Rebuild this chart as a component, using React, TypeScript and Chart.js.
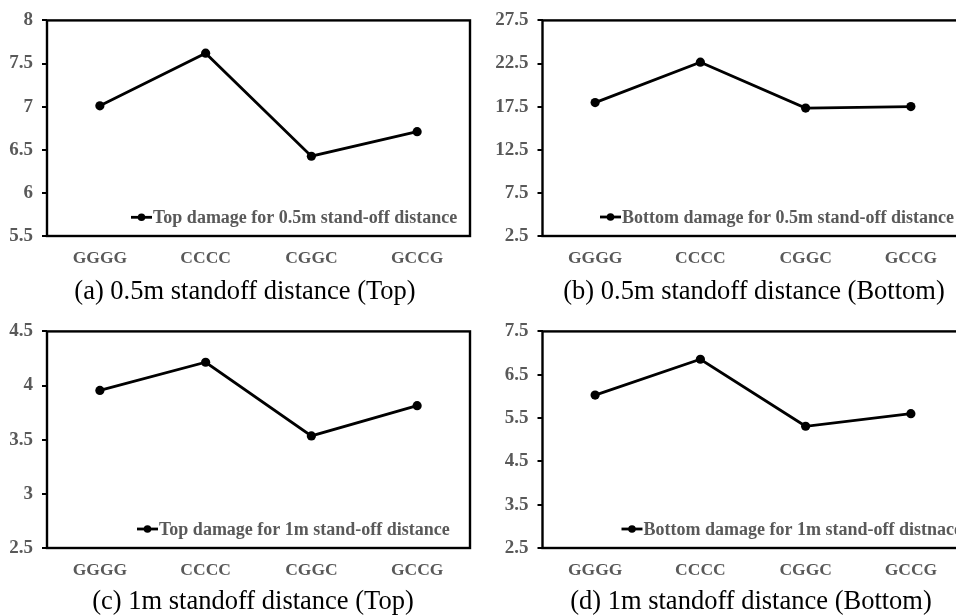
import React, { useEffect, useRef } from 'react';
import { Chart, registerables } from 'chart.js';

Chart.register(...registerables);

// ---- data ----
const categories = ['GGGG', 'CCCC', 'CGGC', 'GCCG'];

const topHalfValues = [7.01, 7.62, 6.425, 6.71];
const bottomHalfValues = [17.97, 22.66, 17.33, 17.51];
const topOneValues = [3.955, 4.215, 3.535, 3.814];
const bottomOneValues = [6.03, 6.857, 5.31, 5.6];

const ticksA = [5.5, 6, 6.5, 7, 7.5, 8];
const ticksB = [2.5, 7.5, 12.5, 17.5, 22.5, 27.5];
const ticksC = [2.5, 3, 3.5, 4, 4.5];
const ticksD = [2.5, 3.5, 4.5, 5.5, 6.5, 7.5];

const labelA = 'Top damage for 0.5m stand-off distance';
const labelB = 'Bottom damage for 0.5m stand-off distance';
const labelC = 'Top damage for 1m stand-off distance';
const labelD = 'Bottom damage for 1m stand-off distnace';

const captionA = '(a) 0.5m standoff distance (Top)';
const captionB = '(b) 0.5m standoff distance (Bottom)';
const captionC = '(c) 1m standoff distance (Top)';
const captionD = '(d) 1m standoff distance (Bottom)';

const FONT = '"Liberation Serif", "Times New Roman", serif';
const GREY = '#595959';

const framePlugin = {
  id: 'frameBox',
  afterDraw(chart: any) {
    const { ctx, chartArea } = chart;
    ctx.save();
    ctx.strokeStyle = '#000';
    ctx.lineWidth = 2.4;
    ctx.strokeRect(chartArea.left, chartArea.top, chartArea.right - chartArea.left, chartArea.bottom - chartArea.top);
    ctx.restore();
  },
};

const innerLegendPlugin = {
  id: 'innerLegend',
  afterDatasetsDraw(chart: any, _args: any, opts: any) {
    const { ctx, chartArea } = chart;
    const x = chartArea.left + opts.x;
    const y = chartArea.bottom - opts.y;
    ctx.save();
    ctx.strokeStyle = '#000';
    ctx.lineWidth = 2.8;
    ctx.beginPath();
    ctx.moveTo(x, y);
    ctx.lineTo(x + 21, y);
    ctx.stroke();
    ctx.beginPath();
    ctx.arc(x + 10.5, y, 3.8, 0, Math.PI * 2);
    ctx.fillStyle = '#000';
    ctx.fill();
    ctx.font = `bold 18px ${FONT}`;
    ctx.fillStyle = GREY;
    ctx.textBaseline = 'middle';
    ctx.textAlign = 'left';
    ctx.fillText(chart.data.datasets[0].label, x + 22, y + 1);
    ctx.restore();
  },
};

type PanelProps = {
  left: number;
  top: number;
  width: number;
  height: number;
  yAxisWidth: number;
  pad: { top: number; right: number; bottom: number };
  values: number[];
  ticks: number[];
  label: string;
  legendX: number;
  legendY: number;
};

function Panel(p: PanelProps) {
  const ref = useRef<HTMLCanvasElement | null>(null);
  useEffect(() => {
    if (!ref.current) return;
    const chart = new Chart(ref.current, {
      type: 'line',
      data: {
        labels: categories,
        datasets: [
          {
            label: p.label,
            data: p.values,
            borderColor: '#000',
            backgroundColor: '#000',
            borderWidth: 2.8,
            pointRadius: 4.6,
            pointBackgroundColor: '#000',
            pointBorderWidth: 0,
            tension: 0,
            clip: false as any,
          },
        ],
      },
      options: {
        responsive: false,
        animation: false,
        devicePixelRatio: 1,
        layout: { padding: { left: 0, top: p.pad.top, right: p.pad.right, bottom: p.pad.bottom } },
        plugins: {
          legend: { display: false },
          tooltip: { enabled: false },
          innerLegend: { x: p.legendX, y: p.legendY },
        } as any,
        scales: {
          x: {
            offset: true,
            grid: { display: false },
            border: { display: false },
            ticks: {
              color: GREY,
              font: { family: FONT, size: 17.5, weight: 'bold' },
              padding: 4,
              maxRotation: 0,
              autoSkip: false,
            },
            afterFit: (axis: any) => {
              axis.height = 34;
            },
          },
          y: {
            min: p.ticks[0],
            max: p.ticks[p.ticks.length - 1],
            grid: {
              display: true,
              drawOnChartArea: false,
              drawTicks: true,
              tickLength: 5,
              color: '#000',
              tickColor: '#000',
              lineWidth: 2,
            },
            border: { display: false },
            ticks: {
              color: GREY,
              font: { family: FONT, size: 19, weight: 'bold' },
              padding: 9,
              callback: (v: any) => String(v),
            },
            afterBuildTicks: (axis: any) => {
              axis.ticks = p.ticks.map((v) => ({ value: v }));
            },
            afterFit: (axis: any) => {
              axis.width = p.yAxisWidth;
            },
          },
        },
      },
      plugins: [framePlugin, innerLegendPlugin],
    });
    return () => chart.destroy();
  }, []);
  return (
    <canvas
      ref={ref}
      width={p.width}
      height={p.height}
      style={{ position: 'absolute', left: p.left, top: p.top, width: p.width, height: p.height, display: 'block' }}
    />
  );
}

function Caption({ text, cx, cy }: { text: string; cx: number; cy: number }) {
  return (
    <div
      style={{
        position: 'absolute',
        left: cx - 250,
        top: cy - 15,
        width: 500,
        height: 30,
        lineHeight: '30px',
        textAlign: 'center',
        whiteSpace: 'nowrap',
        fontFamily: FONT,
        fontSize: 26.5,
        color: '#000',
      }}
    >
      {text}
    </div>
  );
}

export default function App() {
  return (
    <div
      style={{
        position: 'fixed',
        left: 0,
        top: 0,
        width: 956,
        height: 615,
        overflow: 'hidden',
        background: '#fff',
      }}
    >
      <Panel
        left={0}
        top={0}
        width={480}
        height={280}
        yAxisWidth={47}
        pad={{ top: 19, right: 10, bottom: 10 }}
        values={topHalfValues}
        ticks={ticksA}
        label={labelA}
        legendX={84}
        legendY={18.7}
      />
      <Panel
        left={476}
        top={0}
        width={504}
        height={280}
        yAxisWidth={66.5}
        pad={{ top: 19, right: 16.5, bottom: 10 }}
        values={bottomHalfValues}
        ticks={ticksB}
        label={labelB}
        legendX={57.5}
        legendY={19}
      />
      <Panel
        left={0}
        top={311}
        width={480}
        height={280}
        yAxisWidth={47}
        pad={{ top: 19, right: 10, bottom: 9 }}
        values={topOneValues}
        ticks={ticksC}
        label={labelC}
        legendX={90}
        legendY={19}
      />
      <Panel
        left={476}
        top={311}
        width={504}
        height={280}
        yAxisWidth={66.5}
        pad={{ top: 19, right: 16.5, bottom: 9 }}
        values={bottomOneValues}
        ticks={ticksD}
        label={labelD}
        legendX={79}
        legendY={19}
      />
      <Caption text={captionA} cx={245} cy={290} />
      <Caption text={captionB} cx={754} cy={290} />
      <Caption text={captionC} cx={253} cy={600} />
      <Caption text={captionD} cx={751} cy={600} />
    </div>
  );
}
